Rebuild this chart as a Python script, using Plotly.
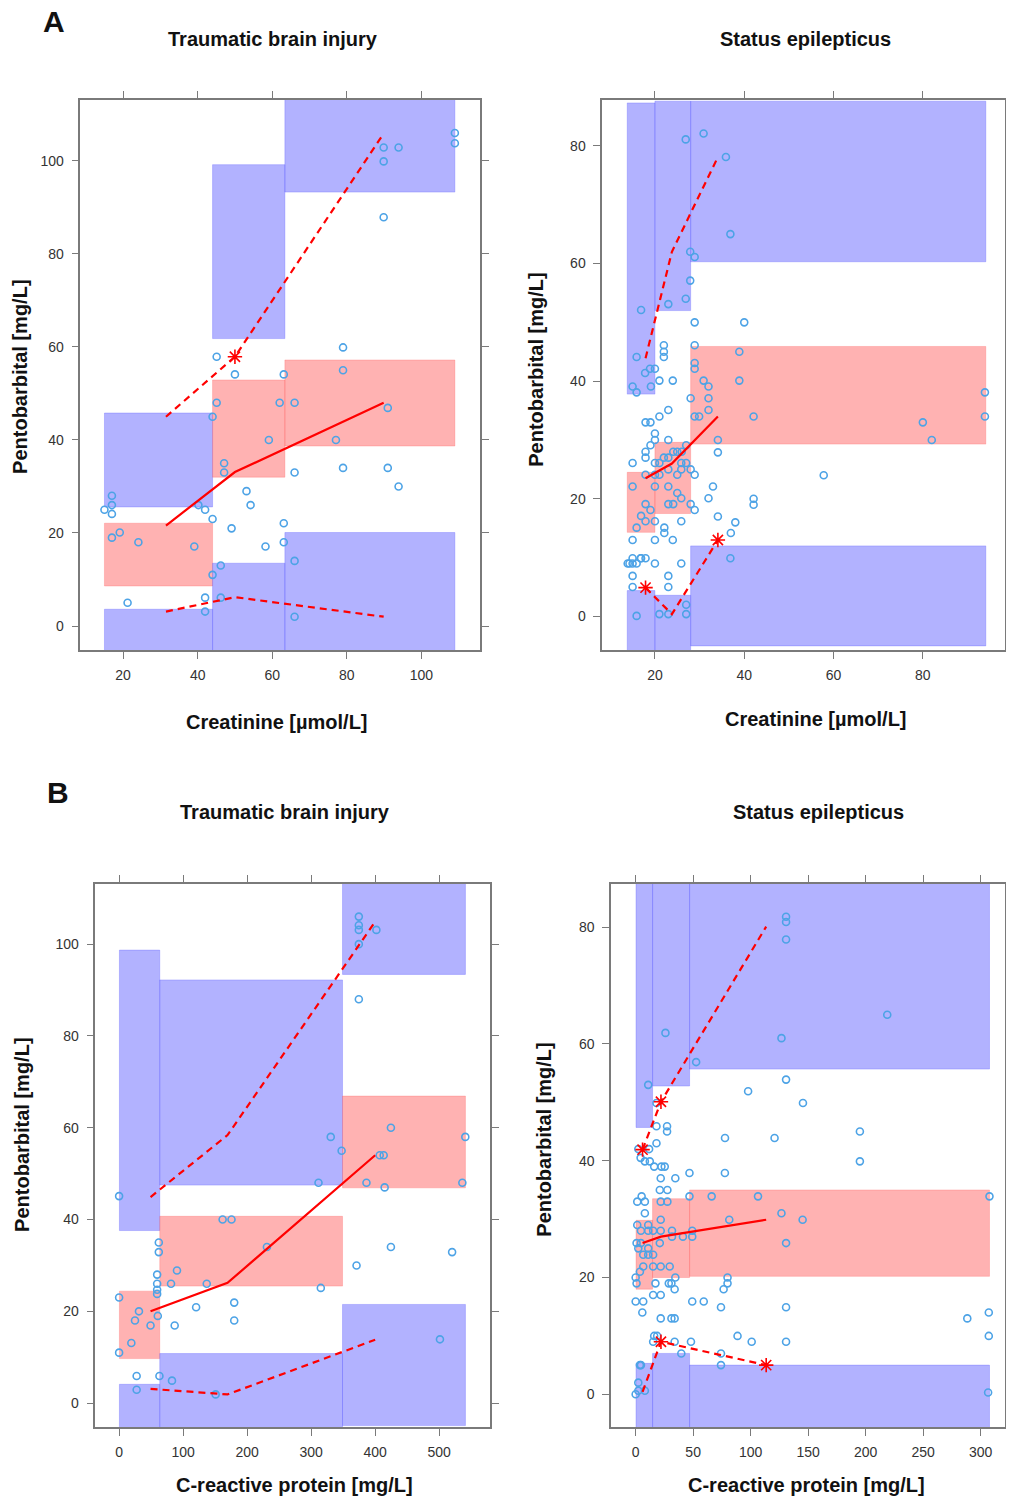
import plotly.graph_objects as go

# reference canvas is 1014 x 1499; the page keeps an 8px left body margin,
# so the figure itself is 1006 px wide and all x pixel positions are shifted by 8.
REF_W, H = 1014, 1499
XOFF = 8
W = REF_W - XOFF

# ---------------- Panel A (left): Traumatic brain injury, creatinine ----------------
A1_EDGES = [15.0, 44.0, 63.4, 109.0]
A1_P95_LO = [25.6, 61.8, 93.3]
A1_P95_HI = [45.8, 99.2, 120.0]
A1_P50_LO = [8.6, 32.0, 38.7]
A1_P50_HI = [22.1, 52.9, 57.2]
A1_P05_LO = [-8.0, -8.0, -8.0]
A1_P05_HI = [3.6, 13.5, 20.1]
A1_LINE_X = [31.5, 50.0, 89.9]
A1_OBS_MED = [21.6, 33.1, 48.0]
A1_OBS_P95 = [45.0, 57.9, 105.9]
A1_OBS_P05 = [3.1, 6.2, 2.0]
A1_STAR_X = [50.0]
A1_STAR_Y = [57.9]
A1_X = [109.0, 109.0, 89.9, 93.9, 89.9, 89.9, 45.1, 79.0, 79.0, 50.0, 63.1, 45.1, 62.0, 66.0,
        91.0, 44.0, 59.1, 77.1, 47.1, 47.1, 66.0, 79.0, 91.0, 93.9, 53.1, 54.2, 17.0, 17.0,
        15.0, 17.0, 40.2, 42.0, 44.0, 49.1, 63.1, 63.1, 58.2, 66.0, 17.0, 19.1, 24.1, 39.1,
        46.2, 44.0, 21.2, 42.0, 46.2, 42.0, 66.0]
A1_Y = [106.0, 103.8, 102.9, 102.9, 99.9, 87.9, 57.9, 59.9, 55.0, 54.1, 54.1, 48.0, 48.0, 48.0,
        46.9, 45.0, 40.0, 40.0, 35.0, 33.0, 33.0, 34.0, 34.0, 30.0, 29.0, 26.0, 28.0, 26.0,
        25.0, 24.1, 26.0, 25.0, 23.0, 21.0, 22.1, 18.0, 17.1, 14.0, 19.0, 20.1, 18.0, 17.1,
        13.0, 11.0, 5.0, 6.1, 6.1, 3.1, 2.0]

# ---------------- Panel A (right): Status epilepticus, creatinine ----------------
A2_EDGES = [13.8, 20.0, 28.0, 94.1]
A2_P95_LO = [37.8, 52.0, 60.3]
A2_P95_HI = [87.3, 87.6, 87.6]
A2_P50_LO = [14.3, 17.5, 29.3]
A2_P50_HI = [24.5, 29.6, 45.9]
A2_P05_LO = [-8.0, -8.0, -5.0]
A2_P05_HI = [4.4, 3.6, 12.0]
A2_LINE_X = [17.9, 23.8, 34.1]
A2_OBS_MED = [23.5, 26.0, 34.0]
A2_OBS_P95 = [43.9, 62.0, 78.1]
A2_OBS_P05 = [4.9, 0.4, 13.0]
A2_STAR_X = [17.9, 34.1]
A2_STAR_Y = [4.9, 13.0]
A2_X = [26.9, 30.9, 35.9, 36.9, 27.9, 28.9, 27.9, 26.9, 23.0, 16.9, 28.9, 40.0, 22.0, 22.0,
        22.0, 28.9, 38.9, 15.9, 28.9, 28.9, 18.9, 20.0, 17.8,
        19.1, 15.0, 15.9, 21.0, 24.0, 30.9, 32.0, 28.0, 32.0, 32.0, 23.0, 28.9, 29.9, 17.9,
        19.0, 21.0, 20.0, 20.0, 19.0, 17.9, 17.9, 15.0, 23.0, 22.0, 21.0, 23.0, 24.1, 25.0,
        26.0, 27.0, 27.0, 25.9, 20.0, 17.9, 20.0, 21.0, 23.0, 25.9, 25.0, 28.0, 34.1, 34.1,
        28.9, 15.0, 20.0, 23.0, 25.0, 25.9, 23.0, 24.1, 28.0, 28.9, 33.0, 32.0, 17.9, 19.0,
        16.9, 17.9, 15.9, 20.0, 25.9, 34.1, 37.0, 22.1, 22.1, 15.0, 20.0, 24.0, 36.9, 25.9,
        20.0, 13.9, 15.0, 15.9, 16.9, 17.9, 15.0, 23.0, 15.0, 23.0, 15.9, 21.0, 23.0, 27.0,
        27.0, 57.8, 80.0, 82.0, 93.9, 93.9, 42.1, 42.1, 42.1, 38.9, 38.0, 15.0, 16.8, 14.3]
A2_Y = [81.1, 82.1, 78.1, 65.0, 62.0, 61.1, 57.1, 54.0, 53.1, 52.1, 50.0, 50.0, 46.1, 45.0,
        44.1, 46.1, 45.0, 44.1, 43.1, 42.1, 42.1, 42.1, 41.4,
        39.1, 39.1, 38.1, 40.1, 40.1, 40.1, 39.1, 37.1, 37.1, 35.1, 35.1, 34.0, 34.0, 33.0,
        33.0, 34.0, 31.1, 30.0, 29.1, 28.0, 27.0, 26.1, 30.0, 27.0, 26.1, 27.0, 28.0, 28.0,
        28.0, 29.1, 26.1, 26.1, 26.1, 24.1, 24.1, 24.1, 25.0, 25.0, 24.1, 25.0, 30.0, 27.9,
        24.1, 22.1, 22.1, 22.1, 21.0, 20.1, 19.1, 19.1, 19.1, 18.1, 22.1, 20.1, 19.1, 18.1,
        17.1, 16.2, 15.1, 16.2, 16.2, 17.0, 14.2, 15.1, 14.2, 13.0, 13.0, 13.0, 9.9, 9.0,
        9.0, 9.0, 9.0, 9.0, 9.9, 9.9, 6.9, 6.9, 5.0, 5.0, 0.1, 0.4, 0.4, 0.4,
        2.0, 24.0, 33.0, 30.0, 38.1, 34.0, 34.0, 20.0, 19.0, 40.1, 16.0, 9.9, 9.9, 9.0]

# ---------------- Panel B (left): Traumatic brain injury, CRP ----------------
B1_EDGES = [0.5, 63.5, 349.0, 541.0]
B1_P95_LO = [37.6, 47.5, 93.4]
B1_P95_HI = [98.7, 92.2, 120.0]
B1_P50_LO = [9.7, 25.5, 46.9]
B1_P50_HI = [24.4, 40.7, 66.9]
B1_P05_LO = [-8.0, -8.0, -4.9]
B1_P05_HI = [4.1, 10.8, 21.5]
B1_LINE_X = [49.1, 169.4, 400.0]
B1_OBS_MED = [20.0, 26.2, 54.0]
B1_OBS_P95 = [44.9, 58.4, 104.9]
B1_OBS_P05 = [3.1, 1.9, 13.8]
B1_STAR_X = []
B1_STAR_Y = []
B1_X = [374.5, 374.5, 374.5, 401.9, 374.5, 374.5, 330.6, 424.6, 540.8, 347.6, 407.1, 413.3,
        311.5, 386.4, 414.8, 536.2, 0.0, 161.7, 175.6, 230.9, 424.6, 520.2, 370.9, 62.0, 62.0,
        59.4, 59.4, 59.4, 59.4, 90.4, 81.1, 136.9, 315.1, 0.0, 31.0, 24.8, 49.1, 60.4, 86.8,
        120.3, 179.8, 179.8, 19.1, 0.0, 501.2, 27.4, 63.0, 82.6, 27.4, 150.8]
B1_Y = [106.0, 104.1, 103.1, 103.1, 100.0, 88.0, 58.0, 60.0, 58.0, 55.0, 54.0, 54.0,
        48.0, 48.0, 47.0, 48.0, 45.1, 40.0, 40.0, 34.0, 34.0, 32.9, 30.0, 35.0, 32.9,
        28.0, 26.0, 24.7, 23.8, 28.9, 26.0, 26.0, 25.1, 23.0, 20.0, 18.0, 16.9, 19.0, 16.9,
        20.9, 21.9, 18.0, 13.1, 11.0, 13.9, 5.9, 5.9, 4.9, 2.9, 1.9]

# ---------------- Panel B (right): Status epilepticus, CRP ----------------
B2_EDGES = [0.3, 14.7, 46.9, 307.7]
B2_P95_LO = [45.7, 52.8, 55.7]
B2_P95_HI = [90.0, 90.0, 90.0]
B2_P50_LO = [18.0, 20.0, 20.2]
B2_P50_HI = [29.8, 33.5, 35.0]
B2_P05_LO = [-8.0, -8.0, -8.0]
B2_P05_HI = [5.3, 7.0, 5.0]
B2_LINE_X = [6.0, 22.0, 113.5]
B2_OBS_MED = [25.9, 27.0, 29.9]
B2_OBS_P95 = [41.9, 50.1, 80.1]
B2_OBS_P05 = [0.4, 9.0, 5.0]
B2_STAR_X = [6.0, 22.0, 22.0, 113.5]
B2_STAR_Y = [41.9, 50.1, 9.0, 5.0]
B2_X = [130.8, 130.8, 130.8, 218.8, 25.9, 126.8, 52.6, 10.9, 130.8, 97.8, 145.5, 18.1, 18.1,
        27.3, 27.3, 77.7, 120.8, 195.0, 18.1, 2.3, 11.7,
        195.0, 46.8, 77.6, 21.8, 34.5, 16.1, 22.4, 25.3, 8.0, 12.3, 4.3, 21.0, 27.6, 46.8,
        66.1, 106.4, 307.7, 5.2, 1.4, 8.0, 21.8, 27.6, 8.0, 126.8, 81.4, 145.2, 1.4, 10.9,
        4.6, 10.9, 15.2, 21.8, 31.6, 41.1, 31.6, 49.2, 49.2, 21.8, 0.8, 4.6, 21.0, 130.8,
        10.9, 2.3, 6.6, 10.9, 15.2, 6.6, 15.2, 21.8, 29.6, 3.7, 0.0, 0.8, 34.5, 17.2, 28.8,
        31.1, 79.9, 79.9, 33.9, 76.5, 15.2, 21.8, 0.0, 6.6, 49.2, 59.2, 130.8, 74.2, 5.8,
        21.8, 31.1, 33.9, 288.4, 307.1, 307.1, 16.1, 18.7, 15.2, 33.9, 48.1, 88.6, 100.9,
        130.8, 39.7, 74.2, 74.2, 4.6, 2.3, 8.0, 0.0, 2.3, 306.5, 3.7]
B2_Y = [81.8, 80.9, 77.9, 65.0, 61.9, 61.0, 56.9, 53.0, 53.9, 51.9, 49.9, 49.9, 45.9,
        45.9, 45.0, 43.9, 43.9, 45.0, 43.0, 42.0, 42.0,
        39.9, 37.9, 37.9, 37.0, 37.0, 39.0, 39.0, 39.0, 39.9, 39.9, 40.5, 35.0, 35.0, 33.9,
        33.9, 33.9, 33.9, 33.9, 33.0, 33.0, 33.0, 33.0, 31.0, 31.0, 29.9, 29.9, 29.0, 29.0,
        28.0, 28.0, 28.0, 29.9, 28.0, 27.0, 27.0, 28.0, 27.0, 28.0, 25.9, 25.9, 25.9, 25.9,
        25.0, 25.0, 23.9, 23.9, 23.9, 21.9, 21.9, 21.9, 21.9, 21.0, 20.0, 19.0, 20.0, 19.0, 19.0,
        19.0, 20.0, 19.0, 18.0, 18.0, 17.0, 17.0, 15.9, 15.9, 15.9, 15.9, 14.9, 14.9, 14.0,
        13.0, 13.0, 13.0, 13.0, 14.0, 10.0, 10.0, 10.0, 9.0, 9.0, 9.0, 10.0, 9.0,
        9.0, 7.0, 7.0, 5.0, 5.0, 2.0, 0.6, 0.0, 0.6, 0.3, 5.0]

# ---------------- Axis settings (ranges / ticks) ----------------
PANELS = [
    dict(edges=A1_EDGES, p95=(A1_P95_LO, A1_P95_HI), p50=(A1_P50_LO, A1_P50_HI),
         p05=(A1_P05_LO, A1_P05_HI), lx=A1_LINE_X, med=A1_OBS_MED, hi=A1_OBS_P95, lo=A1_OBS_P05,
         sx=A1_STAR_X, sy=A1_STAR_Y, ox=A1_X, oy=A1_Y,
         xr=[8.55, 115.8], yr=[-5.16, 113.1], xt=[20, 40, 60, 80, 100], yt=[0, 20, 40, 60, 80, 100],
         box=(81, 484, 100, 650)),
    dict(edges=A2_EDGES, p95=(A2_P95_LO, A2_P95_HI), p50=(A2_P50_LO, A2_P50_HI),
         p05=(A2_P05_LO, A2_P05_HI), lx=A2_LINE_X, med=A2_OBS_MED, hi=A2_OBS_P95, lo=A2_OBS_P05,
         sx=A2_STAR_X, sy=A2_STAR_Y, ox=A2_X, oy=A2_Y,
         xr=[8.2, 98.4], yr=[-5.7, 87.8], xt=[20, 40, 60, 80], yt=[0, 20, 40, 60, 80],
         box=(607, 1013, 100, 650)),
    dict(edges=B1_EDGES, p95=(B1_P95_LO, B1_P95_HI), p50=(B1_P50_LO, B1_P50_HI),
         p05=(B1_P05_LO, B1_P05_HI), lx=B1_LINE_X, med=B1_OBS_MED, hi=B1_OBS_P95, lo=B1_OBS_P05,
         sx=B1_STAR_X, sy=B1_STAR_Y, ox=B1_X, oy=B1_Y,
         xr=[-37.2, 579.6], yr=[-5.2, 113.1], xt=[0, 100, 200, 300, 400, 500], yt=[0, 20, 40, 60, 80, 100],
         box=(96, 494, 884, 1427)),
    dict(edges=B2_EDGES, p95=(B2_P95_LO, B2_P95_HI), p50=(B2_P50_LO, B2_P50_HI),
         p05=(B2_P05_LO, B2_P05_HI), lx=B2_LINE_X, med=B2_OBS_MED, hi=B2_OBS_P95, lo=B2_OBS_P05,
         sx=B2_STAR_X, sy=B2_STAR_Y, ox=B2_X, oy=B2_Y,
         xr=[-21.3, 321.2], yr=[-5.6, 87.4], xt=[0, 50, 100, 150, 200, 250, 300], yt=[0, 20, 40, 60, 80],
         box=(616, 1013, 884, 1427)),
]

BLUE_FILL = "rgba(102,102,255,0.5)"
BLUE_EDGE = "rgba(90,90,255,0.30)"
RED_FILL = "rgba(255,102,102,0.5)"
RED_EDGE = "rgba(255,80,80,0.25)"
OBS_COLOR = "#4da3e6"
LINE_RED = "#ff0000"
AXIS_COLOR = "#7a7a7a"
FONT = "Liberation Sans, Arial, sans-serif"


def fx(px):
    """reference pixel x -> paper fraction of the figure"""
    return (px - XOFF) / W


fig = go.Figure()


def add_rect(x0, x1, y0, y1, fill, edge, xa, ya):
    fig.add_trace(go.Scatter(x=[x0, x1, x1, x0, x0], y=[y0, y0, y1, y1, y0], mode="lines",
                             fill="toself", fillcolor=fill, line=dict(color=edge, width=1),
                             hoverinfo="skip", showlegend=False, xaxis=xa, yaxis=ya))


layout_axes = {}
for i, p in enumerate(PANELS):
    n = "" if i == 0 else str(i + 1)
    xa, ya = "x" + n, "y" + n
    e = p["edges"]
    for k in range(3):
        add_rect(e[k], e[k + 1], p["p05"][0][k], p["p05"][1][k], BLUE_FILL, BLUE_EDGE, xa, ya)
        add_rect(e[k], e[k + 1], p["p95"][0][k], p["p95"][1][k], BLUE_FILL, BLUE_EDGE, xa, ya)
        add_rect(e[k], e[k + 1], p["p50"][0][k], p["p50"][1][k], RED_FILL, RED_EDGE, xa, ya)
    fig.add_trace(go.Scatter(x=p["ox"], y=p["oy"], mode="markers",
                             marker=dict(symbol="circle-open", size=7, color=OBS_COLOR,
                                         line=dict(width=1.6, color=OBS_COLOR)),
                             showlegend=False, xaxis=xa, yaxis=ya))
    fig.add_trace(go.Scatter(x=p["lx"], y=p["med"], mode="lines",
                             line=dict(color=LINE_RED, width=2.2), showlegend=False, xaxis=xa, yaxis=ya))
    for arr in (p["hi"], p["lo"]):
        fig.add_trace(go.Scatter(x=p["lx"], y=arr, mode="lines",
                                 line=dict(color=LINE_RED, width=2.2, dash="7px,5px"),
                                 showlegend=False, xaxis=xa, yaxis=ya))
    if p["sx"]:
        fig.add_trace(go.Scatter(x=p["sx"], y=p["sy"], mode="markers",
                                 marker=dict(symbol="asterisk-open", size=12, color=LINE_RED,
                                             line=dict(width=1.6, color=LINE_RED)),
                                 showlegend=False, xaxis=xa, yaxis=ya))
    l, r, t, b = p["box"]
    common = dict(showline=True, linecolor=AXIS_COLOR, linewidth=1.5, mirror="ticks", ticks="outside",
                  ticklen=7, tickwidth=1.2, tickcolor=AXIS_COLOR, showgrid=False, zeroline=False,
                  tickfont=dict(family=FONT, size=14, color="#333333"))
    layout_axes["xaxis" + n] = dict(common, domain=[fx(l), min(fx(r), 1.0)], range=p["xr"], tickvals=p["xt"],
                                    anchor=ya, ticklabelstandoff=4)
    layout_axes["yaxis" + n] = dict(common, domain=[1 - b / H, 1 - t / H], range=p["yr"], tickvals=p["yt"],
                                    anchor=xa, ticklabelstandoff=5)

fig.update_layout(**layout_axes)

TEXTS = [
    ("A", 54, 22, 30, 0), ("B", 58, 792, 30, 0),
    ("Traumatic brain injury", 275, 39, 20, 0), ("Status epilepticus", 812, 39, 20, 0),
    ("Traumatic brain injury", 287, 812, 20, 0), ("Status epilepticus", 825, 812, 20, 0),
    ("Creatinine [µmol/L]", 279, 722, 20, 0), ("Creatinine [µmol/L]", 822, 719, 20, 0),
    ("C-reactive protein [mg/L]", 297, 1485, 20, 0), ("C-reactive protein [mg/L]", 813, 1485, 20, 0),
    ("Pentobarbital [mg/L]", 20, 377, 20, -90), ("Pentobarbital [mg/L]", 540, 370, 20, -90),
    ("Pentobarbital [mg/L]", 22, 1135, 20, -90), ("Pentobarbital [mg/L]", 548, 1140, 20, -90),
]
anns = []
for txt, px, py, size, ang in TEXTS:
    anns.append(dict(text="<b>" + txt + "</b>", x=fx(px), y=1 - py / H, xref="paper", yref="paper",
                     xanchor="center", yanchor="middle", showarrow=False, textangle=ang,
                     font=dict(family=FONT, size=size, color="#111111")))

fig.update_layout(width=W, height=H, margin=dict(l=0, r=0, t=0, b=0), paper_bgcolor="white",
                  plot_bgcolor="white", annotations=anns, showlegend=False)

fig.write_html("out.html", config={"displayModeBar": False},
               post_script="document.body.style.marginTop='0';document.body.style.marginBottom='0';"
                           "document.body.style.overflow='hidden';")
